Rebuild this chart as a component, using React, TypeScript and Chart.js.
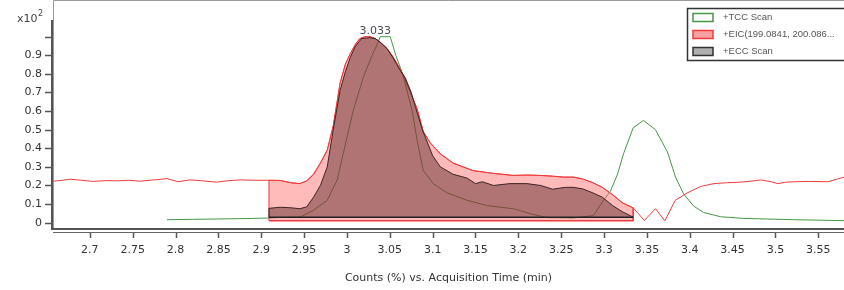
import React, { useEffect, useRef } from "react";
import { Chart, registerables } from "chart.js";

Chart.register(...registerables);

// ---------- data ----------
const xTicks = [2.7, 2.75, 2.8, 2.85, 2.9, 2.95, 3.0, 3.05, 3.1, 3.15, 3.2, 3.25, 3.3, 3.35, 3.4, 3.45, 3.5, 3.55];
const yTicks = [0, 0.1, 0.2, 0.3, 0.4, 0.5, 0.6, 0.7, 0.8, 0.9, 1.0];
const yTickLabels = ["0", "0.1", "0.2", "0.3", "0.4", "0.5", "0.6", "0.7", "0.8", "0.9", ""];

const seriesLabels = ["+TCC Scan", "+EIC(199.0841, 200.086...", "+ECC Scan"];
const xTitle = "Counts (%) vs. Acquisition Time (min)";
const yMultiplier = "x10";
const yExponent = "2";

// integration window & baselines
const integStart = 2.909;
const integEnd = 3.334;
const eicBase = 0.01;
const eccBase = 0.029;

const peakTime = 3.033;
const peakLabel = "3.033";
const peakHeight = 1.0;

// EIC (red)
const eicX = [
  2.657, 2.668, 2.677, 2.69, 2.703, 2.718, 2.732, 2.745, 2.758, 2.775, 2.79, 2.803, 2.817, 2.832, 2.848, 2.862, 2.875, 2.892,
  2.909, 2.922, 2.934, 2.945, 2.953, 2.961, 2.969, 2.977, 2.984, 2.992, 2.998, 3.004, 3.01, 3.015, 3.021, 3.027, 3.033, 3.039,
  3.047, 3.054, 3.061, 3.068, 3.075, 3.082, 3.089, 3.097, 3.109, 3.124, 3.147, 3.171, 3.194, 3.21, 3.226, 3.24, 3.253, 3.264,
  3.275, 3.287, 3.298, 3.31, 3.322, 3.334,
  3.347, 3.36, 3.371, 3.383, 3.397, 3.413, 3.428, 3.444, 3.46, 3.475, 3.483, 3.495, 3.503, 3.512, 3.521, 3.54, 3.561, 3.58,
];
const eicY = [
  0.223, 0.228, 0.234, 0.228, 0.222, 0.226, 0.225, 0.228, 0.223, 0.23, 0.237, 0.22, 0.23, 0.225, 0.218, 0.226, 0.23, 0.228,
  0.228, 0.227, 0.215, 0.21, 0.225, 0.26, 0.32, 0.39, 0.52, 0.75, 0.85, 0.91, 0.96, 0.99, 1.0, 1.0, 0.99, 0.97,
  0.935, 0.89, 0.835, 0.77, 0.69, 0.61, 0.49, 0.43, 0.37, 0.32, 0.28, 0.265, 0.254, 0.256, 0.254, 0.25, 0.245, 0.245,
  0.235, 0.215, 0.19, 0.15, 0.105, 0.08,
  0.012, 0.075, 0.01, 0.12, 0.16, 0.195, 0.21, 0.215, 0.218, 0.225, 0.23, 0.22, 0.21, 0.218, 0.22, 0.222, 0.22, 0.245,
];

// ECC (dark)
const eccX = [
  2.909, 2.922, 2.935, 2.945, 2.953, 2.961, 2.969, 2.977, 2.984, 2.992, 2.998, 3.004, 3.01, 3.017, 3.027, 3.033, 3.039,
  3.047, 3.054, 3.062, 3.068, 3.075, 3.08, 3.088, 3.094, 3.1, 3.109, 3.124, 3.14, 3.15, 3.158, 3.171, 3.19, 3.21, 3.226,
  3.24, 3.255, 3.264, 3.275, 3.287, 3.298, 3.31, 3.322, 3.334,
];
const eccY = [
  0.077, 0.083, 0.08, 0.075, 0.085, 0.137, 0.2, 0.3, 0.5, 0.71, 0.81, 0.89, 0.95, 0.99, 0.995, 0.99, 0.97,
  0.935, 0.885, 0.82, 0.78, 0.7, 0.62, 0.5, 0.43, 0.36, 0.3, 0.26, 0.24, 0.21, 0.22, 0.2, 0.21, 0.21, 0.2,
  0.18, 0.19, 0.19, 0.182, 0.16, 0.137, 0.092, 0.057, 0.03,
];

// TCC (green)
const tccX = [
  2.79, 2.82, 2.85, 2.88, 2.909, 2.922, 2.945, 2.9605, 2.977, 2.9886, 2.9956, 3.0072, 3.0189, 3.0294, 3.0364, 3.0388,
  3.0505, 3.057, 3.065, 3.0762, 3.082, 3.089, 3.1007, 3.117, 3.1404, 3.1638, 3.194, 3.2023, 3.214, 3.234, 3.264, 3.2876,
  3.2993, 3.3075, 3.3157, 3.3227, 3.334, 3.346, 3.36, 3.374, 3.3834, 3.3928, 3.4044, 3.416, 3.436, 3.463, 3.521, 3.58,
];
const tccY = [
  0.016, 0.018, 0.02, 0.022, 0.025, 0.028, 0.03, 0.065, 0.12, 0.23, 0.37, 0.6, 0.78, 0.9, 0.97, 1.0,
  1.0, 0.9, 0.8, 0.6, 0.44, 0.28, 0.21, 0.16, 0.12, 0.092, 0.075, 0.065, 0.048, 0.027, 0.025, 0.038,
  0.12, 0.17, 0.26, 0.37, 0.51, 0.55, 0.5, 0.38, 0.245, 0.155, 0.09, 0.055, 0.032, 0.023, 0.016, 0.011,
];

// ---------- styles ----------
const FONT = "'DejaVu Sans', sans-serif";
const LEGEND_FONT = "'Liberation Sans', Arial, sans-serif";
const RED = "rgb(240,60,60)";
const PINK = "rgba(255,90,90,0.42)";
const GREEN = "rgb(70,150,70)";
const DARK = "rgb(60,35,35)";
const BROWN = "rgba(80,30,30,0.45)";

const pts = (xs: number[], ys: number[]) => xs.map((x, i) => ({ x, y: ys[i] }));

const decorPlugin = {
  id: "decor",
  afterDraw(chart: any) {
    const { ctx, chartArea, scales } = chart;
    const xs = scales.x;
    const ys = scales.y;
    const W = chart.width;
    ctx.save();
    // frame
    ctx.strokeStyle = "#9a9a9a";
    ctx.lineWidth = 1;
    ctx.beginPath();
    ctx.moveTo(chartArea.left + 0.5, chartArea.bottom);
    ctx.lineTo(chartArea.left + 0.5, 0.5);
    ctx.lineTo(W, 0.5);
    ctx.stroke();
    // y axis line
    ctx.strokeStyle = "#555";
    ctx.lineWidth = 2;
    ctx.beginPath();
    ctx.moveTo(chartArea.left - 1, ys.getPixelForValue(1.09));
    ctx.lineTo(chartArea.left - 1, chartArea.bottom);
    ctx.lineTo(W, chartArea.bottom);
    ctx.stroke();
    // second x axis line
    ctx.strokeStyle = "#666";
    ctx.lineWidth = 1.2;
    ctx.beginPath();
    ctx.moveTo(chartArea.left, chartArea.bottom + 3.5);
    ctx.lineTo(W, chartArea.bottom + 3.5);
    ctx.stroke();
    // x ticks
    ctx.strokeStyle = "#555";
    ctx.lineWidth = 1.5;
    ctx.beginPath();
    xTicks.forEach((v) => {
      const px = Math.round(xs.getPixelForValue(v)) + 0.5;
      ctx.moveTo(px, chartArea.bottom + 4);
      ctx.lineTo(px, chartArea.bottom + 9);
    });
    // y ticks
    yTicks.forEach((v) => {
      const py = Math.round(ys.getPixelForValue(v)) + 0.5;
      ctx.moveTo(chartArea.left - 8, py);
      ctx.lineTo(chartArea.left - 1, py);
    });
    ctx.stroke();

    // x10^2
    ctx.fillStyle = "#444";
    ctx.font = `11px ${FONT}`;
    ctx.textBaseline = "middle";
    ctx.textAlign = "left";
    ctx.fillText(yMultiplier, 17, 19);
    const mw = ctx.measureText(yMultiplier).width;
    ctx.font = `8px ${FONT}`;
    ctx.fillText(yExponent, 17 + mw + 0.5, 14);

    // peak label
    ctx.font = `11px ${FONT}`;
    ctx.textAlign = "center";
    ctx.fillStyle = "#4a4a55";
    ctx.fillText(peakLabel, xs.getPixelForValue(peakTime), ys.getPixelForValue(peakHeight) - 6);

    // legend
    const lx = 687.5, ly = 8.5, lw = 170, lh = 52;
    ctx.fillStyle = "#fff";
    ctx.fillRect(lx, ly, lw, lh);
    ctx.strokeStyle = "#333";
    ctx.lineWidth = 1.5;
    ctx.strokeRect(lx, ly, lw, lh);
    const sw = [
      { fill: "#ffffff", stroke: GREEN },
      { fill: "rgb(250,160,160)", stroke: RED },
      { fill: "#b0b0b0", stroke: "#333" },
    ];
    seriesLabels.forEach((lab, i) => {
      const cy = 17.5 + i * 17;
      ctx.fillStyle = sw[i].fill;
      ctx.fillRect(693, cy - 4, 20, 8);
      ctx.strokeStyle = sw[i].stroke;
      ctx.lineWidth = 1.5;
      ctx.strokeRect(693, cy - 4, 20, 8);
      ctx.fillStyle = "#555";
      ctx.font = `9.5px ${LEGEND_FONT}`;
      ctx.textAlign = "left";
      ctx.fillText(lab, 723, cy);
    });
    ctx.restore();
  },
};

export default function App() {
  const ref = useRef<HTMLCanvasElement | null>(null);

  useEffect(() => {
    if (!ref.current) return;
    const eicAll = pts(eicX, eicY);
    const eicArea = [
      { x: integStart, y: eicBase },
      ...eicAll.filter((p) => p.x >= integStart && p.x <= integEnd),
      { x: integEnd, y: eicBase },
    ];
    const eccArea = [{ x: integStart, y: eccBase }, ...pts(eccX, eccY), { x: integEnd, y: eccBase }];
    const common = { pointRadius: 0, tension: 0, borderWidth: 1 };

    const chart = new Chart(ref.current, {
      type: "line",
      data: {
        datasets: [
          { ...common, label: "eccBase", data: [{ x: integStart, y: eccBase }, { x: integEnd, y: eccBase }], borderColor: "#222", borderWidth: 1.5, fill: false, order: 1 },
          { ...common, label: seriesLabels[2], data: eccArea, borderColor: DARK, backgroundColor: BROWN, fill: { value: eccBase }, order: 2 },
          { ...common, label: "eicBase", data: [{ x: integStart, y: eicBase }, { x: integEnd, y: eicBase }], borderColor: RED, borderWidth: 1.5, fill: false, order: 3 },
          { ...common, label: "eicArea", data: eicArea, borderColor: RED, backgroundColor: PINK, fill: { value: eicBase }, order: 4 },
          { ...common, label: seriesLabels[1], data: eicAll, borderColor: RED, fill: false, order: 5 },
          { ...common, label: seriesLabels[0], data: pts(tccX, tccY), borderColor: GREEN, fill: false, order: 6 },
        ],
      },
      options: {
        animation: false,
        responsive: true,
        maintainAspectRatio: false,
        layout: { padding: { top: 1, left: 0, right: 0, bottom: 0 } },
        plugins: { legend: { display: false }, tooltip: { enabled: false } },
        scales: {
          x: {
            type: "linear",
            min: 2.657,
            max: 3.58,
            afterBuildTicks: (s: any) => {
              s.ticks = xTicks.map((v) => ({ value: v }));
            },
            afterFit: (s: any) => {
              s.height = 61;
              s.paddingLeft = 0;
              s.paddingRight = 0;
            },
            grid: { display: false, drawTicks: false },
            border: { display: false },
            ticks: {
              autoSkip: false,
              maxRotation: 0,
              padding: 15,
              color: "#333",
              font: { family: FONT, size: 11 },
              callback: (v: any) => String(+Number(v).toFixed(2)),
            },
            title: {
              display: true,
              text: xTitle,
              color: "#333",
              font: { family: FONT, size: 11 },
              padding: { top: 0, bottom: 5 },
            },
          },
          y: {
            type: "linear",
            min: -0.034,
            max: 1.192,
            afterBuildTicks: (s: any) => {
              s.ticks = yTicks.map((v) => ({ value: v }));
            },
            afterFit: (s: any) => {
              s.width = 53;
              s.paddingTop = 0;
              s.paddingBottom = 0;
            },
            grid: { display: false, drawTicks: false },
            border: { display: false },
            ticks: {
              autoSkip: false,
              padding: 11,
              color: "#333",
              font: { family: FONT, size: 11 },
              callback: (_v: any, i: number) => yTickLabels[i],
            },
          },
        },
      },
      plugins: [decorPlugin],
    } as any);
    return () => chart.destroy();
  }, []);

  return (
    <div style={{ position: "fixed", left: 0, top: 0, width: 844, height: 290, background: "#fff" }}>
      <canvas ref={ref} />
    </div>
  );
}
